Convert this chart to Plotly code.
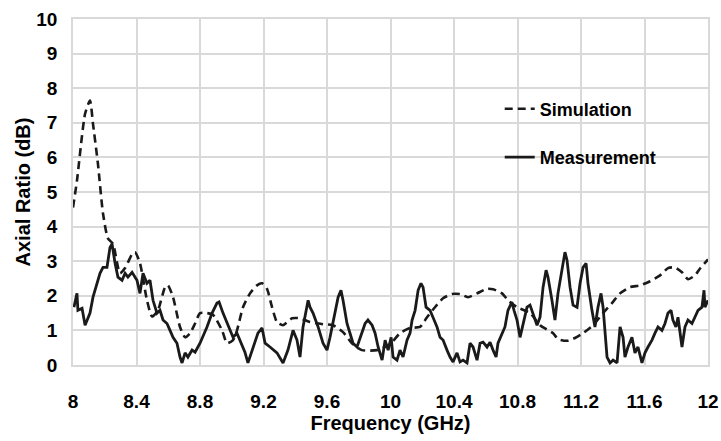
import plotly.graph_objects as go

# Simulation (dashed)
sim_f = [8.000, 8.025, 8.076, 8.107, 8.126, 8.157, 8.189, 8.220, 8.252, 8.296, 8.328, 8.372, 8.391,
         8.422, 8.466, 8.498, 8.535, 8.580, 8.598, 8.630, 8.674, 8.706, 8.737, 8.769, 8.800, 8.844,
         8.882, 8.939, 8.970, 9.008, 9.033, 9.071, 9.115, 9.159, 9.191, 9.222, 9.254, 9.285, 9.323,
         9.380, 9.430, 9.493, 9.575, 9.638, 9.701, 9.757, 9.820, 9.915, 9.997, 10.060, 10.123, 10.186,
         10.230, 10.280, 10.331, 10.387, 10.438, 10.488, 10.545, 10.608, 10.646, 10.703, 10.740,
         10.797, 10.879, 10.942, 11.024, 11.055, 11.112, 11.162, 11.213, 11.276, 11.339, 11.395,
         11.446, 11.509, 11.572, 11.635, 11.698, 11.748, 11.792, 11.836, 11.874, 11.918, 11.950, 12.000]
sim_ar = [4.55, 5.33, 7.26, 7.64, 6.97, 5.82, 4.38, 3.66, 3.50, 2.65, 2.80, 3.20, 3.26,
          2.94, 1.87, 1.40, 1.58, 2.25, 2.30, 1.96, 1.10, 0.80, 0.92, 1.20, 1.50, 1.50,
          1.45, 1.00, 0.63, 0.72, 1.00, 1.67, 2.07, 2.30, 2.36, 2.20, 1.67, 1.24, 1.15,
          1.35, 1.35, 1.24, 1.18, 1.15, 0.95, 0.63, 0.43, 0.43, 0.60, 0.92, 1.07, 1.10,
          1.38, 1.67, 1.93, 2.05, 2.05, 1.96, 2.07, 2.20, 2.19, 2.07, 1.87,
          1.67, 1.50, 1.15, 0.92, 0.75, 0.70, 0.78, 0.92, 1.15, 1.50, 1.79,
          2.07, 2.25, 2.30, 2.42, 2.59, 2.80, 2.82, 2.68, 2.48, 2.59, 2.79, 3.05]

# Measurement (solid)
meas_f = [8.006, 8.025, 8.031, 8.057, 8.076, 8.107, 8.126, 8.151, 8.170, 8.189, 8.214, 8.233, 8.246,
          8.265, 8.283, 8.309, 8.328, 8.346, 8.372, 8.403, 8.422, 8.441, 8.466, 8.485, 8.504, 8.529,
          8.548, 8.567, 8.592, 8.611, 8.630, 8.655, 8.674, 8.687, 8.706, 8.724, 8.750, 8.769, 8.800,
          8.844, 8.876, 8.907, 8.920, 8.945, 8.970, 8.989, 9.008, 9.033, 9.052, 9.083, 9.102, 9.134,
          9.165, 9.191, 9.210, 9.241, 9.285, 9.323, 9.354, 9.386, 9.411, 9.430, 9.449, 9.481, 9.493,
          9.512, 9.544, 9.575, 9.600, 9.619, 9.651, 9.670, 9.688, 9.701, 9.726, 9.745, 9.764, 9.789,
          9.821, 9.840, 9.858, 9.884, 9.903, 9.922, 9.947, 9.966, 9.985, 10.004, 10.016, 10.041,
          10.060, 10.079, 10.104, 10.123, 10.136, 10.155, 10.174, 10.192, 10.205, 10.224, 10.249,
          10.268, 10.293, 10.312, 10.331, 10.356, 10.375, 10.394, 10.419, 10.438, 10.457, 10.482,
          10.501, 10.520, 10.545, 10.564, 10.583, 10.608, 10.627, 10.646, 10.665, 10.677, 10.703,
          10.721, 10.740, 10.765, 10.778, 10.797, 10.816, 10.835, 10.860, 10.879, 10.898, 10.923,
          10.942, 10.961, 10.980, 10.992, 11.017, 11.036, 11.055, 11.080, 11.099, 11.112, 11.131,
          11.150, 11.175, 11.194, 11.213, 11.232, 11.244, 11.269, 11.288, 11.307, 11.326, 11.339,
          11.351, 11.364, 11.383, 11.402, 11.427, 11.446, 11.465, 11.477, 11.496, 11.521, 11.540,
          11.559, 11.584, 11.603, 11.622, 11.647, 11.666, 11.685, 11.710, 11.729, 11.748, 11.767,
          11.779, 11.798, 11.811, 11.836, 11.855, 11.874, 11.899, 11.918, 11.937, 11.962, 11.975,
          11.981, 12.000]
meas_ar = [1.67, 2.07, 1.58, 1.64, 1.15, 1.50, 1.96, 2.36, 2.65, 2.82, 2.82, 3.40, 3.50,
           2.94, 2.54, 2.45, 2.65, 2.54, 2.68, 2.45, 2.07, 2.65, 2.36, 2.45, 1.87, 1.50,
           1.58, 1.30, 1.20, 1.00, 0.80, 0.63, 0.23, 0.06, 0.35, 0.23, 0.43, 0.37, 0.63,
           1.10, 1.50, 1.79, 1.82, 1.50, 1.20, 1.00, 0.80, 0.92, 0.72, 0.37, 0.06, 0.52,
           0.92, 1.07, 0.63, 0.52, 0.35, 0.06, 0.43, 1.00, 0.72, 0.23, 1.10, 1.87, 1.67,
           1.50, 1.10, 0.63, 0.43, 0.80, 1.50, 1.96, 2.16, 1.87, 1.20, 0.92, 0.63, 0.52,
           0.92, 1.20, 1.30, 1.15, 0.92, 0.52, 0.14, 0.72, 0.43, 0.80, 0.23, 0.14,
           0.43, 0.23, 0.72, 0.92, 1.30, 1.58, 2.16, 2.36, 2.25, 1.67, 1.58,
           1.38, 1.10, 0.80, 0.72, 0.43, 0.23, 0.09, 0.35, 0.09, 0.14, 0.06,
           0.63, 0.52, 0.14, 0.63, 0.66, 0.52, 0.66, 0.43, 0.23, 0.63, 0.92,
           1.10, 1.58, 1.82, 1.58, 1.30, 0.80, 1.20, 1.67, 1.73, 1.50, 1.15,
           1.38, 2.25, 2.74, 2.54, 1.87, 1.30, 2.07, 2.82, 3.26, 3.03, 2.25,
           1.73, 1.67, 2.36, 2.82, 2.94, 2.36, 1.58, 1.10, 1.67, 2.07, 1.67,
           0.92, 0.23, 0.06, 0.14, 0.06, 1.10, 0.80, 0.23, 0.52, 0.80, 0.35,
           0.52, 0.06, 0.35, 0.52, 0.72, 0.92, 1.10, 1.00, 1.20, 1.50, 1.58,
           1.30, 1.10, 1.38, 0.52, 1.10, 1.30, 1.20, 1.38, 1.58, 1.67, 2.16,
           1.67, 1.87]

x_ticks = [8, 8.4, 8.8, 9.2, 9.6, 10, 10.4, 10.8, 11.2, 11.6, 12]
x_tick_text = ["8", "8.4", "8.8", "9.2", "9.6", "10", "10.4", "10.8", "11.2", "11.6", "12"]
y_ticks = list(range(0, 11))

FONT = "Liberation Sans, Arial, sans-serif"
INK = "#1a1a1a"
GRID = "#d9d9d9"

fig = go.Figure()
fig.add_trace(go.Scatter(x=sim_f, y=sim_ar, mode="lines", name="Simulation",
                         legendgroup="a",
                         line=dict(color=INK, width=2.6, dash="8px,5px", shape="spline", smoothing=0.6)))
fig.add_trace(go.Scatter(x=meas_f, y=meas_ar, mode="lines", name="Measurement",
                         legendgroup="b",
                         line=dict(color=INK, width=2.8)))

fig.update_layout(
    width=721, height=441,
    margin=dict(l=73, r=13, t=19, b=76),
    paper_bgcolor="white", plot_bgcolor="white",
    font=dict(family=FONT, color="black", size=18),
    showlegend=True,
    legend=dict(x=0.672, y=0.793, xanchor="left", yanchor="top",
                bgcolor="rgba(0,0,0,0)", tracegroupgap=22,
                font=dict(family=FONT, size=18, color="black", weight="bold")),
    xaxis=dict(range=[8, 12], tickmode="array", tickvals=x_ticks, ticktext=x_tick_text,
               automargin=False,
               showgrid=True, gridcolor=GRID, gridwidth=1.5,
               showline=True, linecolor=GRID, linewidth=1.5, mirror=True,
               zeroline=False, ticks="", ticklabelstandoff=18,
               tickfont=dict(family=FONT, size=19, color="black", weight="bold"),
               title=dict(text="<b>Frequency (GHz)</b>", standoff=4,
                          font=dict(family=FONT, size=20, color="black"))),
    yaxis=dict(range=[0, 10], tickmode="array", tickvals=y_ticks,
               automargin=False,
               showgrid=True, gridcolor=GRID, gridwidth=1.5,
               showline=True, linecolor=GRID, linewidth=1.5, mirror=True,
               zeroline=False, ticks="", ticklabelstandoff=10,
               tickfont=dict(family=FONT, size=19, color="black", weight="bold"),
               title=dict(text="<b>Axial Ratio (dB)</b>", standoff=0,
                          font=dict(family=FONT, size=20, color="black"))),
)

fig.write_html("out.html",
               config={"displayModeBar": False},
               post_script="document.body.style.margin='0';document.body.style.padding='0';")
